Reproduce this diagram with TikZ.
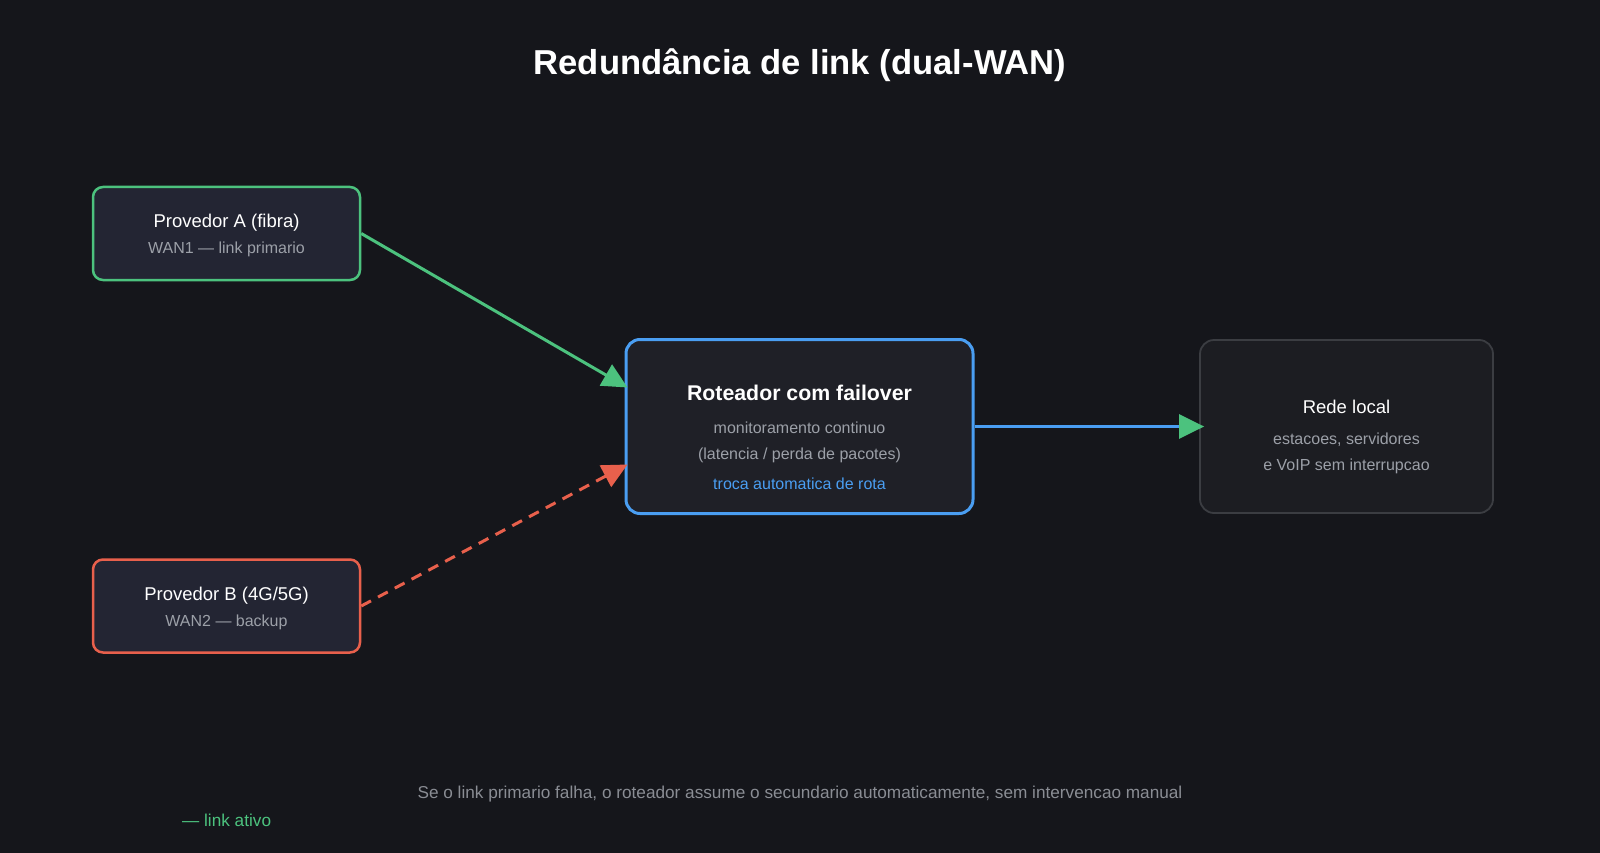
\documentclass[tikz,border=0pt]{standalone}
\usepackage{fontspec}
\setmainfont{Liberation Sans}
\usepackage{xcolor}
\usepackage{tikz}
\usetikzlibrary{arrows.meta,positioning}

\definecolor{fundo}{HTML}{15161B}
\definecolor{caixaA}{HTML}{232533}
\definecolor{caixaR}{HTML}{1F2027}
\definecolor{caixaL}{HTML}{1C1D22}
\definecolor{bordaL}{HTML}{3B3D42}
\definecolor{verde}{HTML}{4CC27E}
\definecolor{vermelho}{HTML}{E8604C}
\definecolor{azul}{HTML}{4A9EF2}
\definecolor{cinza}{HTML}{9CA0A8}
\definecolor{cinzaesc}{HTML}{8A8D94}

\tikzstyle{provedor} = [rectangle, draw, fill=caixaA, rounded corners=10pt, line width=2.5pt,
    minimum width=267pt, minimum height=93pt]
\tikzstyle{roteador} = [rectangle, draw=azul, fill=caixaR, rounded corners=14pt, line width=3pt,
    minimum width=347pt, minimum height=174pt]
\tikzstyle{rede} = [rectangle, draw=bordaL, fill=caixaL, rounded corners=14pt, line width=1.8pt,
    minimum width=293pt, minimum height=173pt]
\tikzstyle{titulo} = [anchor=base, text=white, inner sep=0pt, font=\fontsize{18.5}{22}\selectfont]
\tikzstyle{sub} = [anchor=base, text=cinza, inner sep=0pt, font=\fontsize{16}{19}\selectfont]
\tikzstyle{nota} = [anchor=base, text=cinzaesc, inner sep=0pt, font=\fontsize{17.2}{20}\selectfont]
\tikzstyle{line} = [draw, line width=3pt, -{Triangle[length=25pt,width=24pt]}]

\begin{document}
\begin{tikzpicture}[x=1pt,y=-1pt]
      \fill [fundo] (0,0) rectangle (1600,853);
      \useasboundingbox (0,0) rectangle (1600,853);

      \node [anchor=base, text=white, font=\bfseries\fontsize{34.6}{40}\selectfont] (cabeca) at (800,75) {Redundância de link (dual-WAN)};

      \node [provedor, draw=verde] (provA) at (226.5,233.5) {};
      \node [titulo] (provA-t) at ([yshift=6.5pt]provA.center) {Provedor A (fibra)};
      \node [sub] (provA-s) at ([yshift=-19.5pt]provA.center) {WAN1 — link primario};

      \node [provedor, draw=vermelho] (provB) at (226.5,606) {};
      \node [titulo] (provB-t) at ([yshift=5.5pt]provB.center) {Provedor B (4G/5G)};
      \node [sub] (provB-s) at ([yshift=-20.5pt]provB.center) {WAN2 — backup};

      \node [roteador] (rot) at (799.5,426.5) {};
      \node [titulo, font=\bfseries\fontsize{21.3}{25}\selectfont] (rot-t) at ([yshift=26.5pt]rot.center) {Roteador com failover};
      \node [sub] (rot-s1) at ([yshift=-6.5pt]rot.center) {monitoramento continuo};
      \node [sub] (rot-s2) at ([yshift=-32.5pt]rot.center) {(latencia / perda de pacotes)};
      \node [sub, text=azul] (rot-s3) at ([yshift=-62.5pt]rot.center) {troca automatica de rota};

      \node [rede] (lan) at (1346.5,426.5) {};
      \node [titulo] (lan-t) at ([yshift=13.5pt]lan.center) {Rede local};
      \node [sub] (lan-s1) at ([yshift=-17.5pt]lan.center) {estacoes, servidores};
      \node [sub] (lan-s2) at ([yshift=-43.5pt]lan.center) {e VoIP sem interrupcao};

      \path [line, verde] (provA.east) -- ([xshift=3pt,yshift=39pt]rot.west);
      \path [line, vermelho, dash pattern=on 11pt off 8pt] (provB.east) -- ([xshift=3pt,yshift=-38pt]rot.west);
      \path [line, azul, -{Triangle[length=25pt,width=24pt,color=verde]}] (rot.east) -- ([xshift=5pt]lan.west);

      \node [nota] (rodape) at (800,798) {Se o link primario falha, o roteador assume o secundario automaticamente, sem intervencao manual};
      \node [nota, anchor=base west, text=verde] (legenda) at (182,826) {— link ativo};
\end{tikzpicture}
\end{document}
